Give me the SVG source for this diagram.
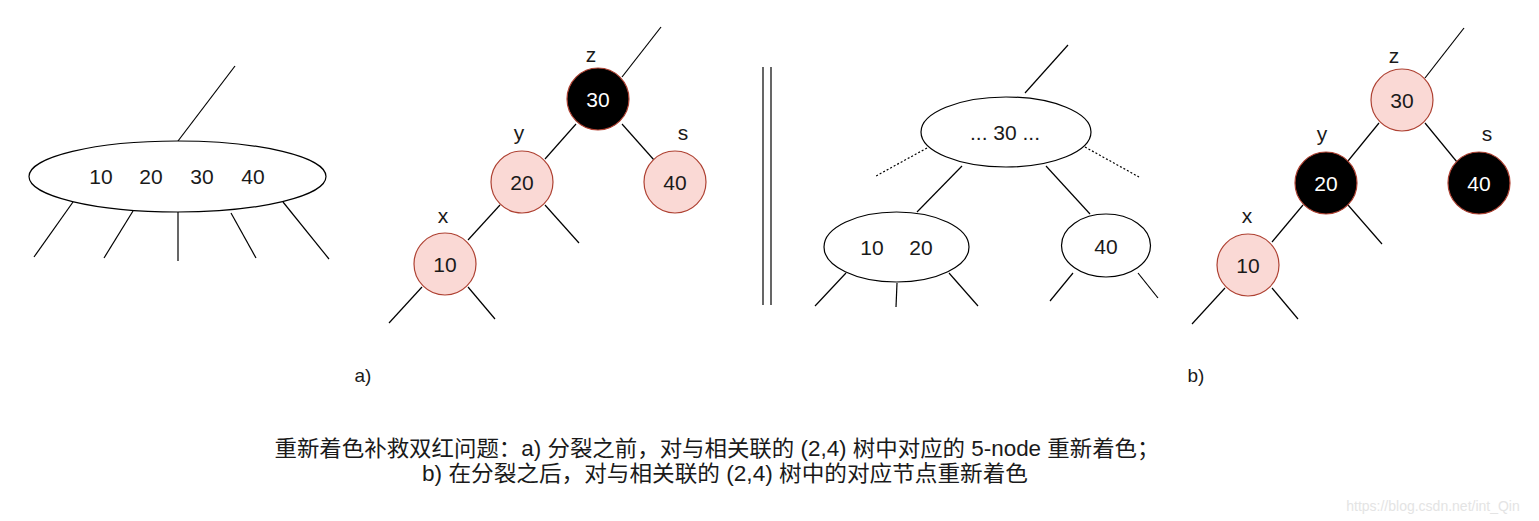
<svg xmlns="http://www.w3.org/2000/svg" width="1539" height="521" viewBox="0 0 1539 521">
<style>
.ln{stroke:#000;stroke-width:1.2;fill:none}
.dot{stroke:#000;stroke-width:1.2;fill:none;stroke-dasharray:2 2}
.ell{fill:#fff;stroke:#000;stroke-width:1.2}
.red{fill:#fad9d5;stroke:#ae4132;stroke-width:1.2}
.blk{fill:#000;stroke:#ae4132;stroke-width:1.2}
text{font-family:"Liberation Sans",Arial,sans-serif;font-size:21px;fill:#1a1a1a;text-anchor:middle;dominant-baseline:central}
.w{fill:#fff}
.cap{font-family:"Liberation Sans","Noto Sans CJK SC",sans-serif;font-size:22px;dominant-baseline:auto}
</style>
<rect width="1539" height="521" fill="#fff"/>
<g id="connectors">
<line class="ln" x1="235" y1="66" x2="178" y2="141"/>
<line class="ln" x1="73" y1="202" x2="34" y2="257"/>
<line class="ln" x1="133" y1="211" x2="104" y2="258"/>
<line class="ln" x1="178" y1="212" x2="178" y2="261"/>
<line class="ln" x1="231" y1="213" x2="256" y2="258"/>
<line class="ln" x1="283" y1="202" x2="329" y2="259"/>
<line class="ln" x1="661" y1="27" x2="622" y2="77"/>
<line class="ln" x1="576" y1="124" x2="545" y2="159"/>
<line class="ln" x1="622" y1="124" x2="654" y2="160"/>
<line class="ln" x1="545" y1="205" x2="579" y2="243"/>
<line class="ln" x1="500" y1="205" x2="468" y2="240"/>
<line class="ln" x1="422" y1="287" x2="389" y2="323"/>
<line class="ln" x1="468" y1="287" x2="495" y2="319"/>
<line class="ln" x1="763" y1="67" x2="763" y2="305"/>
<line class="ln" x1="771" y1="67" x2="771" y2="305"/>
<line class="ln" x1="1068" y1="45" x2="1025" y2="93"/>
<line class="dot" x1="927" y1="148" x2="876" y2="176"/>
<line class="dot" x1="1085" y1="147" x2="1139" y2="177"/>
<line class="ln" x1="962" y1="166" x2="917" y2="212"/>
<line class="ln" x1="1046" y1="166" x2="1090" y2="214"/>
<line class="ln" x1="846" y1="273" x2="815" y2="306"/>
<line class="ln" x1="897" y1="283" x2="896" y2="307"/>
<line class="ln" x1="949" y1="273" x2="978" y2="306"/>
<line class="ln" x1="1073" y1="273" x2="1050" y2="301"/>
<line class="ln" x1="1138" y1="273" x2="1158" y2="298"/>
<line class="ln" x1="1464" y1="28" x2="1425" y2="78"/>
<line class="ln" x1="1379" y1="123" x2="1348" y2="161"/>
<line class="ln" x1="1425" y1="123" x2="1457" y2="162"/>
<line class="ln" x1="1348" y1="205" x2="1382" y2="244"/>
<line class="ln" x1="1303" y1="205" x2="1272" y2="242"/>
<line class="ln" x1="1225" y1="288" x2="1192" y2="324"/>
<line class="ln" x1="1272" y1="288" x2="1298" y2="319"/>
</g>
<g id="node-5node">
<ellipse class="ell" cx="177.5" cy="176.5" rx="148.5" ry="35.5"/>
<text x="101" y="176">10</text><text x="151" y="176">20</text><text x="202" y="176">30</text><text x="253" y="176">40</text>
</g>
<g id="a-z"><circle class="blk" cx="598" cy="99" r="31"/><text class="w" x="598" y="99">30</text><text x="591" y="54">z</text></g>
<g id="a-y"><circle class="red" cx="522" cy="182" r="31"/><text x="522" y="182">20</text><text x="519" y="132">y</text></g>
<g id="a-s"><circle class="red" cx="675" cy="182" r="31"/><text x="675" y="182">40</text><text x="683" y="132">s</text></g>
<g id="a-x"><circle class="red" cx="445" cy="264" r="31"/><text x="445" y="264">10</text><text x="443" y="215">x</text></g>
<g id="n-30"><ellipse class="ell" cx="1006" cy="132" rx="85" ry="35"/><text x="1005" y="132">... 30 ...</text></g>
<g id="n-1020"><ellipse class="ell" cx="896.5" cy="247" rx="72.5" ry="35"/><text x="872" y="247">10</text><text x="921" y="247">20</text></g>
<g id="n-40"><ellipse class="ell" cx="1106" cy="245.5" rx="44.5" ry="31.5"/><text x="1106" y="246">40</text></g>
<g id="b-z"><circle class="red" cx="1402" cy="100" r="31"/><text x="1402" y="100">30</text><text x="1394" y="55">z</text></g>
<g id="b-y"><circle class="blk" cx="1326" cy="183" r="31"/><text class="w" x="1326" y="183">20</text><text x="1322" y="133">y</text></g>
<g id="b-s"><circle class="blk" cx="1479" cy="183" r="31"/><text class="w" x="1479" y="183">40</text><text x="1487" y="133">s</text></g>
<g id="b-x"><circle class="red" cx="1248" cy="265" r="31"/><text x="1248" y="265">10</text><text x="1247" y="215">x</text></g>
<g id="labels">
<text x="363" y="375" style="font-size:19px">a)</text>
<text x="1196" y="375" style="font-size:19px">b)</text>
<text class="cap" x="717" y="456" textLength="885" lengthAdjust="spacingAndGlyphs">重新着色补救双红问题：a) 分裂之前，对与相关联的 (2,4) 树中对应的 5-node 重新着色；</text>
<text class="cap" x="725" y="481" textLength="606" lengthAdjust="spacingAndGlyphs">b) 在分裂之后，对与相关联的 (2,4) 树中的对应节点重新着色</text>
<text x="1433" y="506" style="font-size:14px;fill:#e4e4e4">https://blog.csdn.net/int_Qin</text>
</g>
</svg>
